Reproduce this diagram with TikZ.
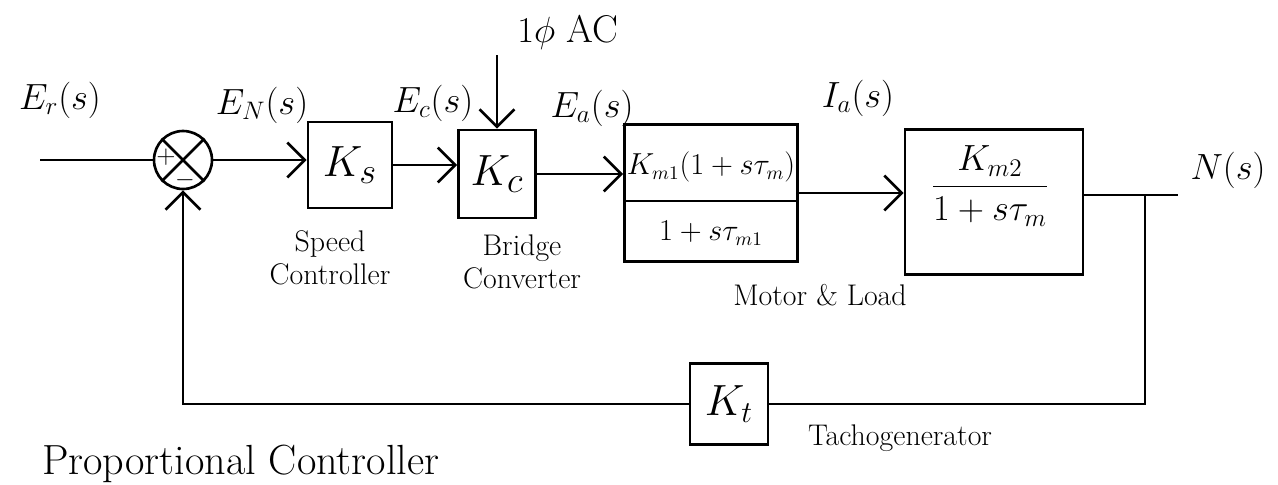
\documentclass[tikz,border=0pt]{standalone}
\usetikzlibrary{arrows.meta}
\begin{document}
\begin{tikzpicture}[x=0.02cm,y=-0.02cm, line width=1.5pt,
  blk/.style={draw, rectangle, inner sep=0pt},
  lbl/.style={font=\fontsize{22}{26}\selectfont},
  gain/.style={font=\fontsize{30}{34}\selectfont},
  mtext/.style={font=\fontsize{16}{19}\selectfont},
  caplbl/.style={font=\fontsize{17}{19}\selectfont, align=center},
  arr/.style={-{Straight Barb[length=3.5mm,width=7mm]}},
]
\useasboundingbox (0,0) rectangle (1278,484);
\fill[white] (0,0) rectangle (1278,484);

% summing junction
\node[draw, circle, minimum size=1.16cm, inner sep=0pt] (sum) at (183,160) {};
\draw (sum.135) -- (sum.-45);
\draw (sum.45) -- (sum.-135);
\node[font=\fontsize{14}{16}\selectfont, inner sep=0pt] (plus) at (166,157) {$+$};
\node[font=\fontsize{14}{16}\selectfont, inner sep=0pt] (minus) at (185,180) {$-$};

% blocks
\node[blk, minimum width=1.68cm, minimum height=1.72cm, gain] (ks) at (350,165) {$K_s$};
\node[blk, minimum width=1.54cm, minimum height=1.76cm, gain] (kc) at (497,174) {$K_c$};
\node[blk, minimum width=3.46cm, minimum height=2.74cm] (m1) at (711,193) {};
\coordinate (m1div) at (711,201);
\draw (m1.west |- m1div) -- (m1.east |- m1div);
\node[mtext] (m1num) at (711,167) {$K_{m1}(1+s\tau_m)$};
\node[mtext] (m1den) at (711,233) {$1+s\tau_{m1}$};
\node[blk, minimum width=3.56cm, minimum height=2.9cm] (m2) at (994,202) {};
\node[font=\fontsize{20}{24}\selectfont] (m2frac) at (990,186) {$\displaystyle\frac{\;K_{m2}\;}{1+s\tau_m}$};
\node[blk, minimum width=1.56cm, minimum height=1.62cm, font=\fontsize{26}{30}\selectfont] (kt) at (729,404) {$K_t$};

% coordinates
\coordinate (in) at (40,160);
\coordinate (ac) at (497,55);
\coordinate (br) at (1145,195);
\coordinate (out) at (1178,195);

% connectors
\draw (in) -- (sum.west);
\draw[arr] (sum.east) -- (sum.east -| ks.west);
\draw[arr] (ks.east) -- (ks.east -| kc.west);
\draw[arr] (kc.east) -- (kc.east -| m1.west);
\draw[arr] (m1.east) -- (m1.east -| m2.west);
\draw[arr] (ac) -- (kc.north);
\draw (m2.east |- out) -- (out);
\draw (br) |- (kt.east);
\draw[arr] (kt.west) -| (sum.south);

% labels
\node[lbl] (lEr) at (60,100) {$E_r(s)$};
\node[lbl] (lEN) at (262,105) {$E_N(s)$};
\node[lbl] (lEc) at (433,103) {$E_c(s)$};
\node[lbl] (lEa) at (592,108) {$E_a(s)$};
\node[lbl] (lIa) at (858,98) {$I_a(s)$};
\node[lbl] (lN) at (1228,170) {$N(s)$};
\node[lbl] (lAC) at (568,32) {$1\phi$ AC};
\node[caplbl] (lspeed) at (330,258) {Speed\\Controller};
\node[caplbl] (lbridge) at (522,262) {Bridge\\Converter};
\node[caplbl] (lmotor) at (820,295) {Motor \& Load};
\node[caplbl] (ltacho) at (900,438) {Tachogenerator};
\node[font=\fontsize{24}{28}\selectfont, anchor=west] (lprop) at (35,464) {Proportional Controller};
\end{tikzpicture}
\end{document}
